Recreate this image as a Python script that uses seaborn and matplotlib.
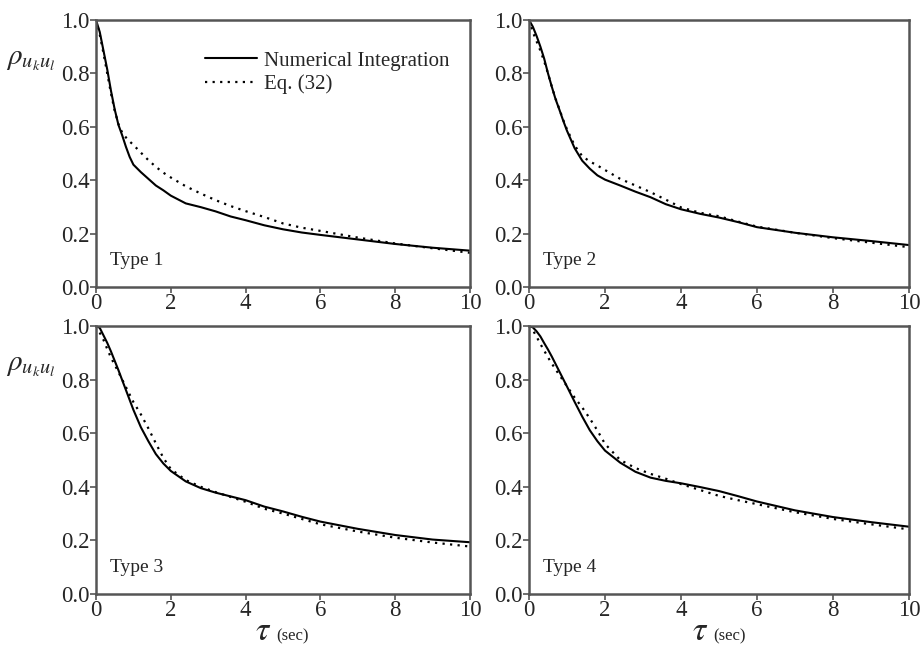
import numpy as np
import pandas as pd
import matplotlib
matplotlib.use('Agg')
import matplotlib.pyplot as plt
import seaborn as sns

tau = [0, 0.1, 0.2, 0.3, 0.4, 0.5, 0.6, 0.7, 0.8, 0.9, 1.0, 1.2, 1.4, 1.6, 1.8,
       2.0, 2.4, 2.8, 3.2, 3.6, 4.0, 4.5, 5.0, 5.5, 6.0, 7.0, 8.0, 9.0, 10.0]

num_type1 = [1.0, 0.955, 0.885, 0.815, 0.735, 0.665, 0.607, 0.568, 0.525, 0.487, 0.458, 0.43, 0.405, 0.38, 0.362,
             0.342, 0.313, 0.299, 0.283, 0.264, 0.25, 0.231, 0.216, 0.204, 0.195, 0.178, 0.161, 0.147, 0.136]
eq_type1 = [1.0, 0.945, 0.875, 0.80, 0.725, 0.66, 0.61, 0.578, 0.56, 0.545, 0.532, 0.503, 0.475, 0.45, 0.428,
            0.41, 0.377, 0.35, 0.325, 0.303, 0.284, 0.262, 0.238, 0.222, 0.21, 0.185, 0.163, 0.145, 0.128]

num_type2 = [1.0, 0.975, 0.94, 0.90, 0.855, 0.80, 0.75, 0.703, 0.664, 0.623, 0.585, 0.52, 0.473, 0.443, 0.418,
             0.402, 0.38, 0.357, 0.336, 0.31, 0.291, 0.274, 0.26, 0.243, 0.224, 0.203, 0.186, 0.172, 0.157]
eq_type2 = [1.0, 0.955, 0.92, 0.885, 0.845, 0.80, 0.75, 0.705, 0.666, 0.626, 0.59, 0.53, 0.49, 0.47, 0.455,
            0.438, 0.405, 0.38, 0.355, 0.327, 0.298, 0.278, 0.265, 0.245, 0.226, 0.203, 0.183, 0.166, 0.149]

num_type3 = [1.0, 0.993, 0.965, 0.937, 0.905, 0.87, 0.835, 0.798, 0.761, 0.724, 0.687, 0.622, 0.57, 0.522, 0.487,
             0.459, 0.42, 0.395, 0.378, 0.364, 0.35, 0.326, 0.308, 0.288, 0.27, 0.243, 0.22, 0.203, 0.193]
eq_type3 = [1.0, 0.975, 0.948, 0.914, 0.882, 0.855, 0.828, 0.80, 0.772, 0.744, 0.716, 0.67, 0.618, 0.562, 0.508,
            0.466, 0.425, 0.40, 0.38, 0.362, 0.344, 0.318, 0.30, 0.28, 0.26, 0.233, 0.21, 0.192, 0.177]

num_type4 = [1.0, 0.995, 0.98, 0.961, 0.936, 0.912, 0.886, 0.858, 0.83, 0.802, 0.774, 0.717, 0.662, 0.611, 0.57,
             0.535, 0.49, 0.456, 0.434, 0.422, 0.413, 0.399, 0.384, 0.365, 0.345, 0.312, 0.287, 0.268, 0.251]
eq_type4 = [1.0, 0.985, 0.96, 0.933, 0.908, 0.883, 0.86, 0.838, 0.817, 0.796, 0.775, 0.733, 0.696, 0.655, 0.61,
            0.56, 0.50, 0.47, 0.448, 0.43, 0.41, 0.388, 0.366, 0.35, 0.335, 0.305, 0.28, 0.26, 0.241]

panel_labels = ['Type 1', 'Type 2', 'Type 3', 'Type 4']
series_names = ['Numerical Integration', 'Eq. (32)']
x_ticks = [0, 2, 4, 6, 8, 10]
y_ticks = [0.0, 0.2, 0.4, 0.6, 0.8, 1.0]

sns.set_style('ticks')
plt.rcParams['font.family'] = ['Liberation Serif', 'DejaVu Serif']
plt.rcParams['mathtext.fontset'] = 'stix'

spine_col = '#555555'
dot_style = (0, (1, 2.4))

fig = plt.figure(figsize=(9.24, 6.5), dpi=100)
positions = [
    [0.1039, 0.5585, 0.4048, 0.4108],
    [0.5725, 0.5585, 0.4113, 0.4108],
    [0.1039, 0.0862, 0.4048, 0.4123],
    [0.5725, 0.0862, 0.4113, 0.4123],
]
num_all = [num_type1, num_type2, num_type3, num_type4]
eq_all = [eq_type1, eq_type2, eq_type3, eq_type4]

for i in range(4):
    ax = fig.add_axes(positions[i])
    sns.lineplot(x=tau, y=num_all[i], ax=ax, color='black', linewidth=1.5,
                 label=series_names[0] if i == 0 else None)
    sns.lineplot(x=tau, y=eq_all[i], ax=ax, color='black', linewidth=1.6,
                 linestyle=dot_style, label=series_names[1] if i == 0 else None)
    ax.set_xlim(0, 10)
    ax.set_ylim(0, 1.0)
    ax.set_xticks(x_ticks)
    ax.set_yticks(y_ticks)
    ax.set_xticklabels([str(t) for t in x_ticks])
    ax.set_yticklabels(['%.1f' % t for t in y_ticks])
    ax.tick_params(direction='out', length=4, width=1.2, color=spine_col,
                   labelsize=16.5, pad=0.5)
    for s in ax.spines.values():
        s.set_color(spine_col)
        s.set_linewidth(1.8)
    ax.set_xlabel('')
    ax.set_ylabel('')
    ax.text(0.037, 0.10, panel_labels[i], transform=ax.transAxes,
            fontsize=14, va='center', ha='left')
    if i == 0:
        ax.legend(loc='upper left', bbox_to_anchor=(0.27, 0.915), frameon=False,
                  fontsize=15, handlelength=2.5, handletextpad=0.3,
                  labelspacing=0.2, borderaxespad=0)
    else:
        if ax.get_legend() is not None:
            ax.get_legend().remove()
    if i in (0, 2):
        ax.text(-0.175, 0.85, r'$\rho_{u_k u_l}$', transform=ax.transAxes,
                fontsize=21, va='center', ha='center')

for xc in (263 / 924, 700 / 924):
    fig.text(xc, 1 - 632 / 650, r'$\tau$', fontsize=24, ha='center', va='center')
    fig.text(xc + 13 / 924, 1 - 636 / 650, '(sec)', fontsize=12, ha='left', va='center')

fig.savefig('out.png', dpi=100)
